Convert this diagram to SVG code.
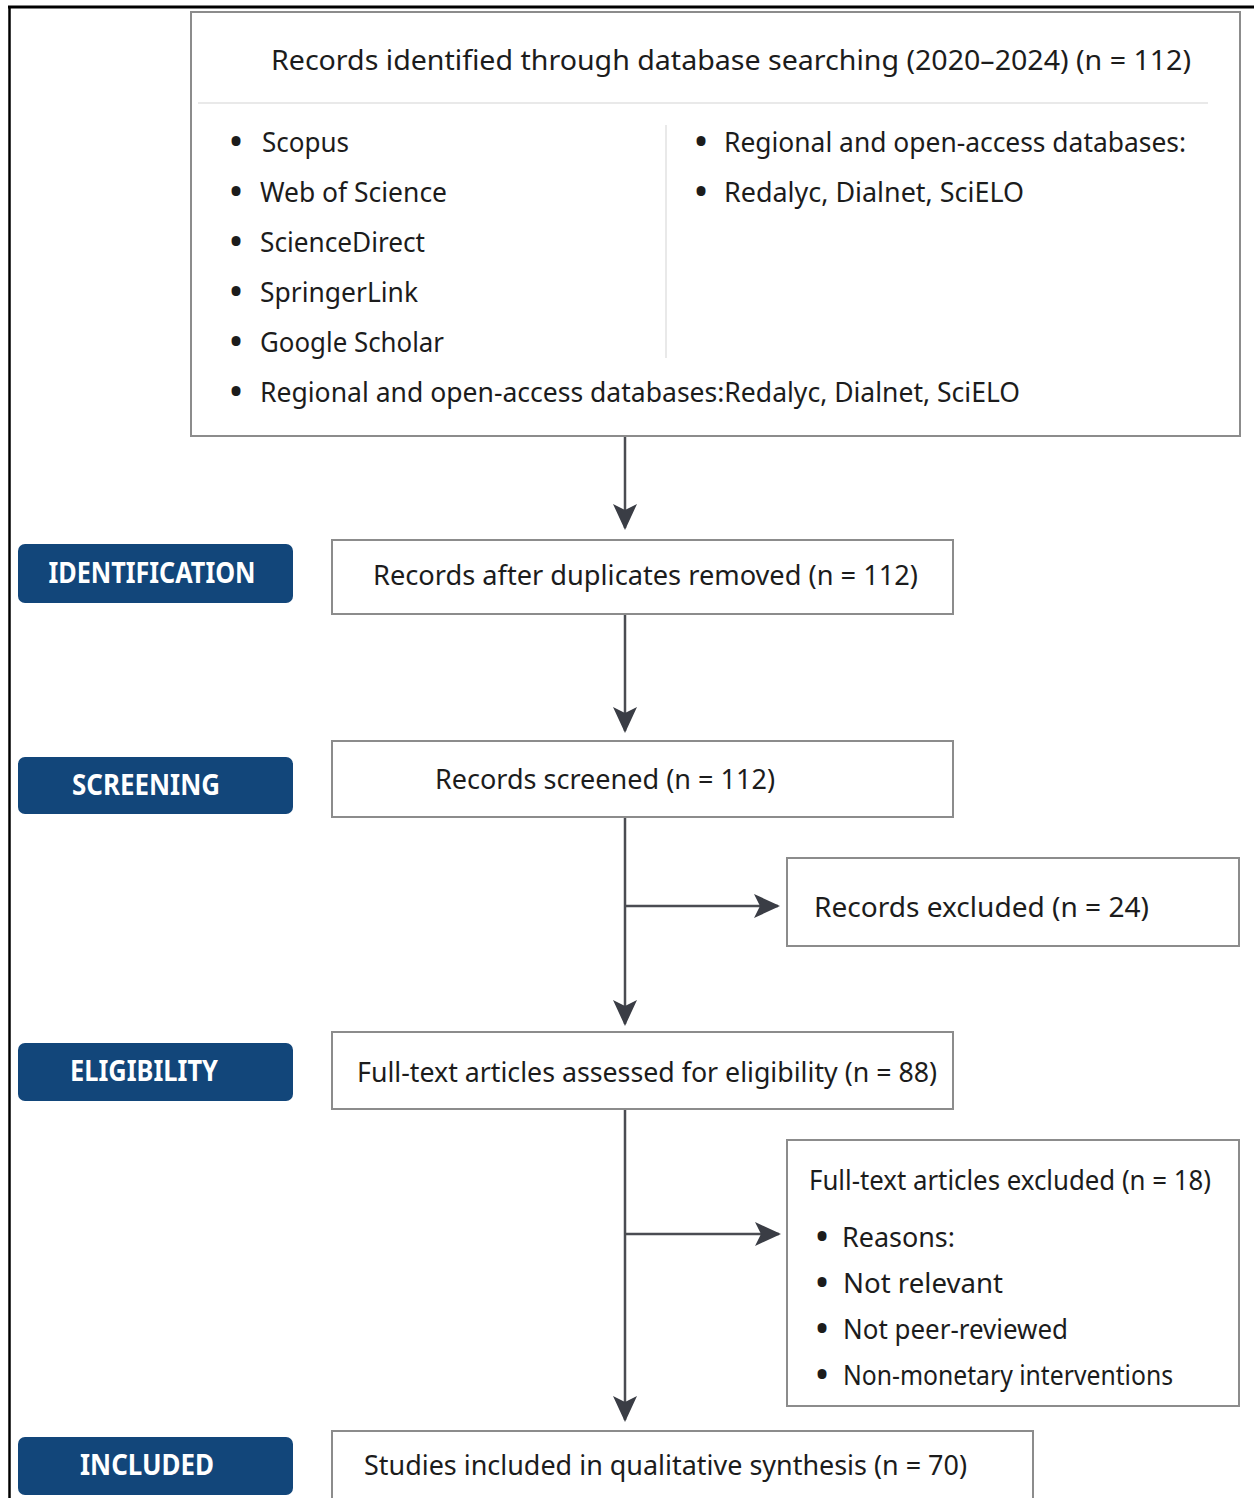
<svg xmlns="http://www.w3.org/2000/svg" width="1254" height="1498" viewBox="0 0 1254 1498">
<style>
.box{fill:#fff;stroke:#8c8c8c;stroke-width:2}
.phase{fill:#12467a}
.pt{font-family:"Noto Sans","Open Sans",sans-serif;font-weight:bold;font-size:28px;fill:#fff;text-anchor:middle}
.t{font-family:"Noto Sans","Open Sans",sans-serif;font-size:28px;fill:#1c1c1c}
.b{font-family:"Noto Sans","Open Sans",sans-serif;font-size:32px;font-weight:bold;fill:#1c1c1c}
.sep{stroke:#e2e2e2;stroke-width:1.5}
.con{stroke:#4a4c52;stroke-width:2.5;fill:none;marker-end:url(#ah)}
</style>
<defs>
<marker id="ah" viewBox="0 0 26 24" refX="24" refY="12" markerWidth="26" markerHeight="24" markerUnits="userSpaceOnUse" orient="auto">
<path d="M0,0 L26,12 L0,24 L6,12 Z" fill="#3a3d45"/>
</marker>
</defs>
<rect width="1254" height="1498" fill="#fff"/>
<g id="frame">
<line x1="8" y1="7" x2="1254" y2="7" stroke="#000" stroke-width="3"/>
<line x1="9.5" y1="6" x2="9.5" y2="1498" stroke="#000" stroke-width="2.5"/>
</g>
<g id="connectors">
<line class="con" x1="625" y1="436" x2="625" y2="528"/>
<line class="con" x1="625" y1="614" x2="625" y2="731"/>
<line class="con" x1="625" y1="817" x2="625" y2="1024"/>
<line class="con" x1="625" y1="906" x2="778" y2="906"/>
<line class="con" x1="625" y1="1109" x2="625" y2="1420"/>
<line class="con" x1="625" y1="1234" x2="779" y2="1234"/>
</g>
<g id="records-identified">
<rect class="box" x="191" y="12" width="1049" height="424"/>
<text class="t" x="271" y="70" textLength="920" lengthAdjust="spacingAndGlyphs">Records identified through database searching (2020–2024) (n = 112)</text>
<line class="sep" x1="198" y1="103" x2="1208" y2="103"/>
<line class="sep" x1="666" y1="125" x2="666" y2="358"/>
<text class="b" x="230" y="153">•</text><text class="t" x="262" y="152" textLength="87" lengthAdjust="spacingAndGlyphs">Scopus</text>
<text class="b" x="230" y="203">•</text><text class="t" x="260" y="202" textLength="187" lengthAdjust="spacingAndGlyphs">Web of Science</text>
<text class="b" x="230" y="253">•</text><text class="t" x="260" y="252" textLength="165" lengthAdjust="spacingAndGlyphs">ScienceDirect</text>
<text class="b" x="230" y="303">•</text><text class="t" x="260" y="302" textLength="158" lengthAdjust="spacingAndGlyphs">SpringerLink</text>
<text class="b" x="230" y="353">•</text><text class="t" x="260" y="352" textLength="184" lengthAdjust="spacingAndGlyphs">Google Scholar</text>
<text class="b" x="230" y="403">•</text><text class="t" x="260" y="402" textLength="760" lengthAdjust="spacingAndGlyphs">Regional and open-access  databases:Redalyc, Dialnet, SciELO</text>
<text class="b" x="695" y="153">•</text><text class="t" x="724" y="152" textLength="462" lengthAdjust="spacingAndGlyphs">Regional and open-access databases:</text>
<text class="b" x="695" y="203">•</text><text class="t" x="724" y="202" textLength="300" lengthAdjust="spacingAndGlyphs">Redalyc, Dialnet, SciELO</text>
</g>
<g id="phase-identification">
<rect class="phase" x="18" y="544" width="275" height="59" rx="7"/>
<text class="pt" x="152" y="583" textLength="207" lengthAdjust="spacingAndGlyphs">IDENTIFICATION</text>
</g>
<g id="phase-screening">
<rect class="phase" x="18" y="757" width="275" height="57" rx="7"/>
<text class="pt" x="146" y="795" textLength="148" lengthAdjust="spacingAndGlyphs">SCREENING</text>
</g>
<g id="phase-eligibility">
<rect class="phase" x="18" y="1043" width="275" height="58" rx="7"/>
<text class="pt" x="144" y="1081" textLength="148" lengthAdjust="spacingAndGlyphs">ELIGIBILITY</text>
</g>
<g id="phase-included">
<rect class="phase" x="18" y="1437" width="275" height="58" rx="7"/>
<text class="pt" x="147" y="1475" textLength="134" lengthAdjust="spacingAndGlyphs">INCLUDED</text>
</g>
<g id="after-duplicates">
<rect class="box" x="332" y="540" width="621" height="74"/>
<text class="t" x="373" y="585" textLength="545" lengthAdjust="spacingAndGlyphs">Records after duplicates removed (n = 112)</text>
</g>
<g id="records-screened">
<rect class="box" x="332" y="741" width="621" height="76"/>
<text class="t" x="435" y="789" textLength="340" lengthAdjust="spacingAndGlyphs">Records screened (n = 112)</text>
</g>
<g id="records-excluded">
<rect class="box" x="787" y="858" width="452" height="88"/>
<text class="t" x="814" y="917" textLength="335" lengthAdjust="spacingAndGlyphs">Records excluded (n = 24)</text>
</g>
<g id="full-text-assessed">
<rect class="box" x="332" y="1032" width="621" height="77"/>
<text class="t" x="357" y="1082" textLength="580" lengthAdjust="spacingAndGlyphs">Full-text articles assessed for eligibility (n = 88)</text>
</g>
<g id="full-text-excluded">
<rect class="box" x="787" y="1140" width="452" height="266"/>
<text class="t" x="809" y="1190" textLength="402" lengthAdjust="spacingAndGlyphs">Full-text articles excluded (n = 18)</text>
<text class="b" x="816" y="1248">•</text><text class="t" x="842" y="1247" textLength="113" lengthAdjust="spacingAndGlyphs">Reasons:</text>
<text class="b" x="816" y="1294">•</text><text class="t" x="843" y="1293" textLength="160" lengthAdjust="spacingAndGlyphs">Not relevant</text>
<text class="b" x="816" y="1340">•</text><text class="t" x="843" y="1339" textLength="225" lengthAdjust="spacingAndGlyphs">Not peer-reviewed</text>
<text class="b" x="816" y="1386">•</text><text class="t" x="843" y="1385" textLength="330" lengthAdjust="spacingAndGlyphs">Non-monetary interventions</text>
</g>
<g id="studies-included">
<rect class="box" x="332" y="1431" width="701" height="70"/>
<text class="t" x="364" y="1475" textLength="603" lengthAdjust="spacingAndGlyphs">Studies included in qualitative synthesis (n = 70)</text>
</g>
</svg>
